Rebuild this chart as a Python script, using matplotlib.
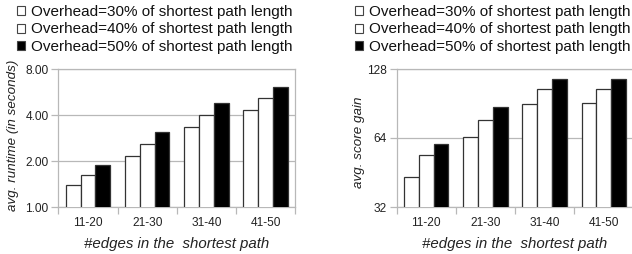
import matplotlib
matplotlib.use("Agg")
import matplotlib.pyplot as plt
from matplotlib.patches import Patch
from matplotlib.ticker import FixedLocator, NullFormatter
import numpy as np

plt.rcParams['font.family'] = ['Liberation Sans', 'DejaVu Sans']

categories = ["11-20", "21-30", "31-40", "41-50"]
series_labels = ["Overhead=30% of shortest path length",
                 "Overhead=40% of shortest path length",
                 "Overhead=50% of shortest path length"]
runtime_30 = [1.40, 2.16, 3.33, 4.30]
runtime_40 = [1.62, 2.57, 4.02, 5.17]
runtime_50 = [1.89, 3.08, 4.82, 6.14]
score_30 = [43.4, 64.6, 90.0, 90.6]
score_40 = [53.8, 76.7, 105.0, 104.3]
score_50 = [60.4, 87.1, 115.8, 115.8]
runtime_ticks = [1, 2, 4, 8]
runtime_ticklabels = ["1.00", "2.00", "4.00", "8.00"]
score_ticks = [32, 64, 128]
score_ticklabels = ["32", "64", "128"]

face_colors = ["white", "white", "black"]
edge = "#333333"
grid_c = "#b8b8b8"

fig = plt.figure(figsize=(6.32, 2.54), dpi=100)
W, H = 632, 254

def make_ax(x0, x1, y_top, y_bot):
    return fig.add_axes([x0 / W, 1 - y_bot / H, (x1 - x0) / W, (y_bot - y_top) / H])

ax1 = make_ax(58.3, 295.3, 69, 207)
ax2 = make_ax(396.5, 633.5, 69, 207)

def draw(ax, data, ticks, ticklabels, ylim, ylabel):
    x = np.arange(len(categories))
    w = 0.25
    for i, vals in enumerate(data):
        ax.bar(x + (i - 1) * w, vals, width=w, color=face_colors[i],
               edgecolor=edge, linewidth=0.9, zorder=3)
    ax.set_yscale('log', base=2)
    ax.set_ylim(*ylim)
    ax.set_xlim(-0.5, len(categories) - 0.5)
    ax.yaxis.set_major_locator(FixedLocator(ticks))
    ax.set_yticklabels(ticklabels)
    ax.yaxis.set_minor_locator(FixedLocator([]))
    ax.yaxis.set_minor_formatter(NullFormatter())
    ax.set_xticks(x)
    ax.set_xticklabels(categories)
    ax.set_xticks(np.arange(len(categories) + 1) - 0.5, minor=True)
    ax.tick_params(axis='x', which='major', length=0, pad=7, labelsize=8.6, colors='#222222')
    ax.tick_params(axis='x', which='minor', length=5, color=grid_c, width=0.9)
    ax.tick_params(axis='y', which='major', length=5, color=grid_c, width=0.9, pad=2,
                   labelsize=8.6, labelcolor='#222222')
    ax.grid(axis='y', color=grid_c, linewidth=0.9, zorder=0)
    for s in ax.spines.values():
        s.set_color(grid_c)
        s.set_linewidth(0.9)
    ax.set_xlabel("#edges in the  shortest path", fontsize=10.8, style='italic',
                  color='#222222', labelpad=6)
    ax.set_ylabel(ylabel, fontsize=9.6, style='italic', color='#222222')

draw(ax1, [runtime_30, runtime_40, runtime_50], runtime_ticks, runtime_ticklabels,
     (1, 8), "avg. runtime (in seconds)")
draw(ax2, [score_30, score_40, score_50], score_ticks, score_ticklabels,
     (32, 128), "avg. score gain")

ax1.yaxis.set_label_coords(-(58.3 - 19) / (295.3 - 58.3), 0.52)
ax2.yaxis.set_label_coords(-(396.5 - 365) / (633.5 - 396.5), 0.47)

handles = [Patch(facecolor=c, edgecolor='#444444', linewidth=0.8) for c in face_colors]
for lx in (17, 355):
    fig.legend(handles, series_labels, loc='upper left',
               bbox_to_anchor=(lx / W, 1 - 5 / H), frameon=False,
               fontsize=10.95, handlelength=0.55, handleheight=0.55,
               handletextpad=0.4, labelspacing=0.23, borderpad=0,
               borderaxespad=0, labelcolor='#111111')

fig.savefig("out.png", dpi=100)
